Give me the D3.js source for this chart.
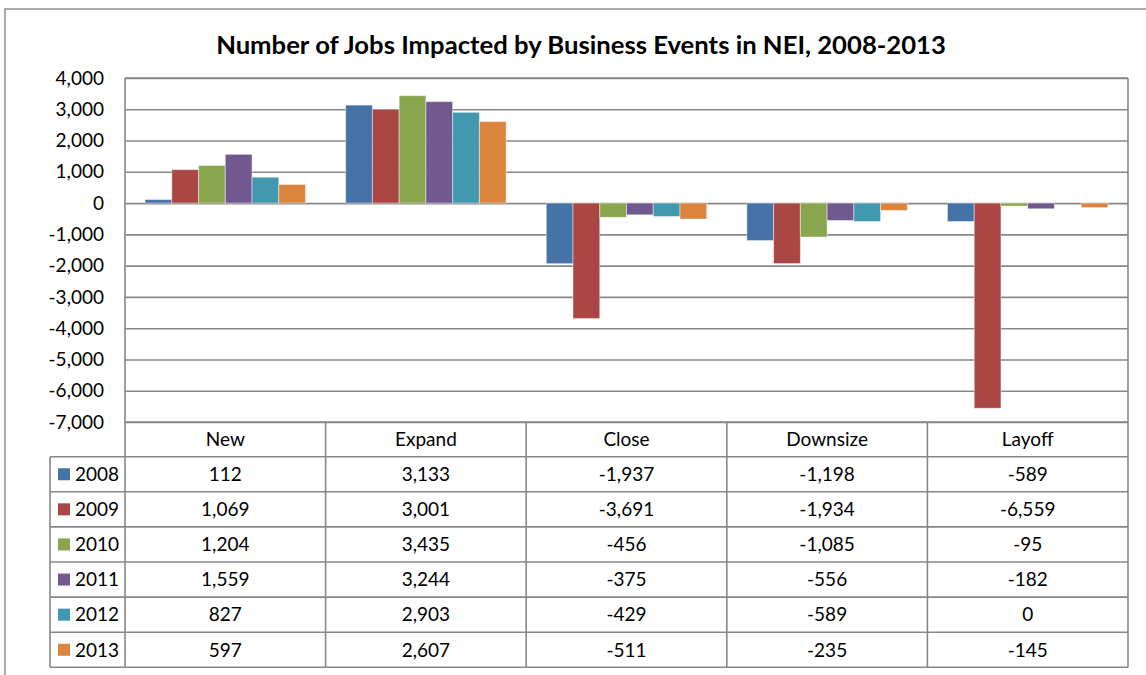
<!DOCTYPE html>
<html>
<head>
<meta charset="utf-8">
<script src="https://cdn.jsdelivr.net/npm/d3@7"></script>
<style>
  html, body { margin: 0; padding: 0; background: #fff; }
  svg { display: block; font-family: Lato, "Open Sans", sans-serif; }
</style>
</head>
<body>
<svg id="chart" width="1146" height="675"></svg>
<script>
// Job impact by business event type, by year
const categories = ["New", "Expand", "Close", "Downsize", "Layoff"];
const years = ["2008", "2009", "2010", "2011", "2012", "2013"];
const values2008 = [112, 3133, -1937, -1198, -589];
const values2009 = [1069, 3001, -3691, -1934, -6559];
const values2010 = [1204, 3435, -456, -1085, -95];
const values2011 = [1559, 3244, -375, -556, -182];
const values2012 = [827, 2903, -429, -589, 0];
const values2013 = [597, 2607, -511, -235, -145];
const yTicks = [4000, 3000, 2000, 1000, 0, -1000, -2000, -3000, -4000, -5000, -6000, -7000];
const colors = ["#4572A7", "#AA4643", "#89A54E", "#71588F", "#4198AF", "#DB843D"];

const seriesValues = [values2008, values2009, values2010, values2011, values2012, values2013];
const series = years.map((yr, i) => ({ year: yr, values: seriesValues[i], color: colors[i] }));

const svg = d3.select("#chart");
const gridColor = "#878787";
const fontSize = 19;
const plot = { left: 125, right: 1128, top: 78, bottom: 422 };
const rowH = 35.1;
const headerBottom = 456.7;
const legendLeft = 50;
const tableBottom = headerBottom + rowH * years.length;

// Thousands separator with a plain hyphen for negatives
const fmt = d3.formatLocale({ decimal: ".", thousands: ",", grouping: [3], currency: ["$", ""], minus: "-" }).format(",");

// Outer chart frame
svg.append("rect")
  .attr("x", 5).attr("y", 9).attr("width", 1160).attr("height", 700)
  .attr("fill", "#fff").attr("stroke", "#8e8e8e").attr("stroke-width", 1.5);

// Title
const title = svg.append("text")
  .attr("x", 581).attr("y", 54)
  .attr("text-anchor", "middle")
  .attr("font-weight", "bold")
  .attr("font-size", 24)
  .attr("fill", "#000")
  .text("Number of Jobs Impacted by Business Events in NEI, 2008-2013");
const tw = title.node().getComputedTextLength();
title.attr("font-size", 24 * 730 / tw);

// Scales
const y = d3.scaleLinear().domain([-7000, 4000]).range([plot.bottom, plot.top]);
const x0 = d3.scaleBand().domain(categories).range([plot.left, plot.right]).paddingInner(0).paddingOuter(0);
const x1 = d3.scaleBand().domain(years).range([0, x0.bandwidth()]).paddingInner(0).paddingOuter(0.75);

// Gridlines and value labels
const yAxis = d3.axisLeft(y)
  .tickValues(yTicks)
  .tickSize(-(plot.right - plot.left))
  .tickPadding(21)
  .tickFormat(fmt);
const gy = svg.append("g")
  .attr("transform", `translate(${plot.left},0)`)
  .call(yAxis);
gy.select(".domain").remove();
gy.selectAll(".tick line").attr("stroke", gridColor).attr("stroke-width", 1.6);
gy.selectAll(".tick text")
  .attr("font-size", fontSize)
  .attr("fill", "#000")
  .attr("font-family", "Lato, 'Open Sans', sans-serif");

// Bars
const groups = svg.append("g").selectAll("g")
  .data(series)
  .join("g")
  .attr("fill", d => d.color);
groups.selectAll("rect")
  .data(d => d.values.map((v, i) => ({ v, cat: categories[i], year: d.year })))
  .join("rect")
  .attr("x", d => x0(d.cat) + x1(d.year))
  .attr("width", x1.bandwidth())
  .attr("y", d => y(Math.max(0, d.v)))
  .attr("height", d => Math.abs(y(d.v) - y(0)))
  .attr("stroke", "#ffffff")
  .attr("stroke-opacity", 0.45)
  .attr("stroke-width", 1);

// Data table grid
const tbl = svg.append("g").attr("stroke", gridColor).attr("stroke-width", 1.6).attr("fill", "none");
tbl.append("line").attr("x1", plot.left).attr("x2", plot.right).attr("y1", plot.bottom).attr("y2", plot.bottom);
d3.range(years.length + 1).forEach(i => {
  const yy = headerBottom + i * rowH;
  tbl.append("line").attr("x1", legendLeft).attr("x2", plot.right).attr("y1", yy).attr("y2", yy);
});
tbl.append("line").attr("x1", plot.left).attr("x2", plot.left).attr("y1", plot.top).attr("y2", tableBottom);
tbl.append("line").attr("x1", plot.right).attr("x2", plot.right).attr("y1", plot.top).attr("y2", tableBottom);
tbl.append("line").attr("x1", plot.left).attr("x2", plot.right).attr("y1", plot.top).attr("y2", plot.top);
tbl.append("line").attr("x1", legendLeft).attr("x2", legendLeft).attr("y1", headerBottom).attr("y2", tableBottom);
categories.slice(1).forEach(c => {
  tbl.append("line").attr("x1", x0(c)).attr("x2", x0(c)).attr("y1", plot.bottom).attr("y2", tableBottom);
});

// Header labels
svg.append("g").selectAll("text")
  .data(categories)
  .join("text")
  .attr("x", d => x0(d) + x0.bandwidth() / 2)
  .attr("y", (plot.bottom + headerBottom) / 2)
  .attr("dy", "0.36em")
  .attr("text-anchor", "middle")
  .attr("font-size", fontSize)
  .attr("fill", "#000")
  .text(d => d);

// Table rows: legend key + values
const rows = svg.append("g").selectAll("g")
  .data(series)
  .join("g")
  .attr("transform", (d, i) => `translate(0,${headerBottom + i * rowH})`);
rows.append("rect")
  .attr("x", 58).attr("y", rowH / 2 - 6)
  .attr("width", 12).attr("height", 12)
  .attr("fill", d => d.color);
rows.append("text")
  .attr("x", 75).attr("y", rowH / 2).attr("dy", "0.36em")
  .attr("font-size", fontSize).attr("fill", "#000")
  .text(d => d.year);
rows.selectAll("text.val")
  .data(d => d.values.map((v, i) => ({ v, cat: categories[i] })))
  .join("text")
  .attr("class", "val")
  .attr("x", d => x0(d.cat) + x0.bandwidth() / 2)
  .attr("y", rowH / 2).attr("dy", "0.36em")
  .attr("text-anchor", "middle")
  .attr("font-size", fontSize).attr("fill", "#000")
  .text(d => fmt(d.v));
</script>
</body>
</html>
